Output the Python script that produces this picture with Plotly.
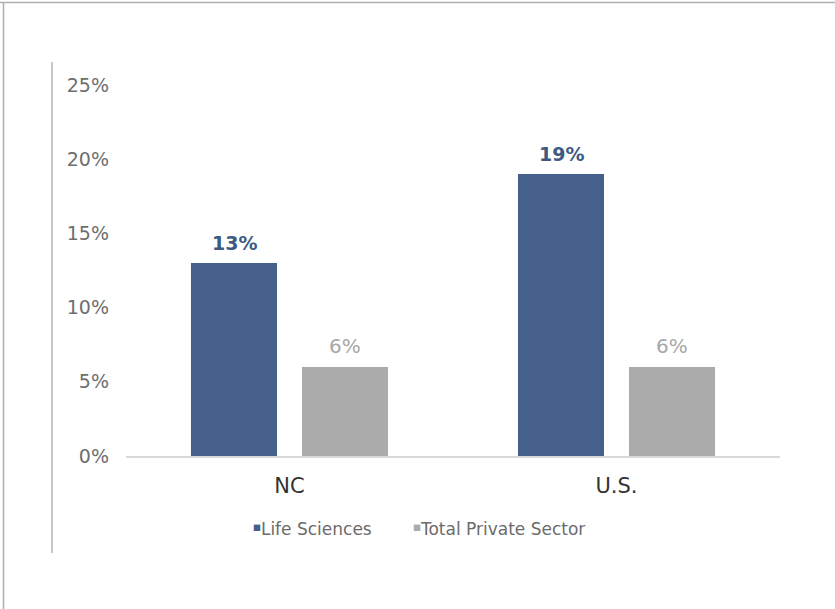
import plotly.graph_objects as go

categories = ["NC", "U.S."]
life_sciences = [13, 19]
total_private = [6, 6]
series_names = ["Life Sciences", "Total Private Sector"]
y_ticks = [0, 5, 10, 15, 20, 25]
y_tick_labels = ["0%", "5%", "10%", "15%", "20%", "25%"]

BLUE = "#45608a"
GREY = "#ababab"
FONT = "DejaVu Sans"

W, H = 835, 609
L, R, T, B = 126, 55, 85, 153
pw, ph = W - L - R, H - T - B


def px(x):
    return (x - L) / pw


def py(y):
    return (H - B - y) / ph


fig = go.Figure()
fig.add_trace(go.Bar(x=categories, y=life_sciences, name=series_names[0],
                     marker=dict(color=BLUE, line=dict(width=0)), showlegend=False))
fig.add_trace(go.Bar(x=categories, y=total_private, name=series_names[1],
                     marker=dict(color=GREY, line=dict(width=0)), showlegend=False))

annotations = []
for cat, v in zip(categories, life_sciences):
    annotations.append(dict(x=cat, y=v, xref="x", yref="y", text=f"<b>{v}%</b>",
                            showarrow=False, yanchor="bottom", xshift=-55.5, yshift=7,
                            font=dict(family=FONT, size=19, color="#3d5a85")))
for cat, v in zip(categories, total_private):
    annotations.append(dict(x=cat, y=v, xref="x", yref="y", text=f"{v}%",
                            showarrow=False, yanchor="bottom", xshift=55.5, yshift=7,
                            font=dict(family=FONT, size=20, color="#a8a8a8")))

# legend as text
for xpos, name, col in [(251, series_names[0], BLUE), (411, series_names[1], GREY)]:
    annotations.append(dict(
        x=px(xpos), y=py(529), xref="paper", yref="paper", xanchor="left", yanchor="middle",
        showarrow=False,
        text=f"<span style='color:{col}; font-size:12px'><sup>■</sup></span>{name}",
        font=dict(family=FONT, size=17, color="#6b6b6b")))

shapes = [
    # outer frame (top & left)
    dict(type="line", xref="paper", yref="paper", x0=px(0), x1=px(835), y0=py(2.5), y1=py(2.5),
         line=dict(color="#b0b0b0", width=1.5)),
    dict(type="line", xref="paper", yref="paper", x0=px(3.5), x1=px(3.5), y0=py(2), y1=py(609),
         line=dict(color="#b0b0b0", width=1.5)),
    # inner vertical rule
    dict(type="line", xref="paper", yref="paper", x0=px(52), x1=px(52), y0=py(62), y1=py(553),
         line=dict(color="#c8c8c8", width=2)),
]

fig.update_layout(
    width=W, height=H,
    margin=dict(l=L, r=R, t=T, b=B, pad=0),
    paper_bgcolor="white", plot_bgcolor="white",
    barmode="group", bargap=0.321, bargroupgap=0.225,
    font=dict(family=FONT),
    annotations=annotations, shapes=shapes,
    showlegend=False,
)
fig.update_xaxes(showline=True, linecolor="#d9d9d9", linewidth=1.5, ticks="",
                 showgrid=False, zeroline=False,
                 tickfont=dict(family=FONT, size=21, color="#333333"),
                 ticklabelstandoff=10)
fig.update_yaxes(range=[0, 25], tickvals=y_ticks, ticktext=y_tick_labels,
                 showline=False, showgrid=False, zeroline=False, ticks="",
                 tickfont=dict(family=FONT, size=19, color="#6e6e6e"),
                 ticklabelstandoff=16)

fig.write_html("out.html", config={"displayModeBar": False},
               post_script="document.body.style.margin='0';document.body.style.overflow='hidden';")
